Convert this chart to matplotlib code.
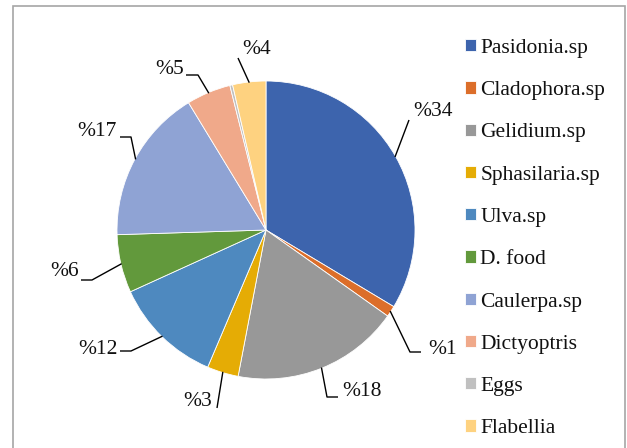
import matplotlib
matplotlib.use("Agg")
import matplotlib.pyplot as plt
import numpy as np
from matplotlib.patches import Rectangle

plt.rcParams['font.family'] = ['Liberation Serif', 'DejaVu Serif']

categories = ['Pasidonia.sp', 'Cladophora.sp', 'Gelidium.sp', 'Sphasilaria.sp', 'Ulva.sp',
              'D. food', 'Caulerpa.sp', 'Dictyoptris', 'Eggs', 'Flabellia']
values = [33.6, 1.2, 18.2, 3.4, 11.8, 6.3, 16.8, 4.8, 0.3, 3.6]
label_texts = ['%34', '%1', '%18', '%3', '%12', '%6', '%17', '%5', '', '%4']
colors = ['#3d64ad', '#dc6e2a', '#989898', '#e5ac05', '#4e89bf', '#62993c',
          '#8fa3d4', '#f0a98a', '#c0c0c0', '#fed280']

W, H = 627, 448
fig = plt.figure(figsize=(W / 100, H / 100), dpi=100)
R = 149.0
cx, cy = 266.0, 230.0
ax = fig.add_axes([0, 0, 1, 1])

def px(x, y):
    return ((x - cx) / R, (cy - y) / R)

wedges, _ = ax.pie(values, colors=colors, startangle=90, counterclock=False,
                   radius=1.0, center=(0, 0), frame=True,
                   wedgeprops=dict(edgecolor='white', linewidth=0.6))
ax.set_xlim(-cx / R, (W - cx) / R)
ax.set_ylim(-(H - cy) / R, cy / R)
ax.axis('off')

# label layout (pixel positions): text anchor, elbow points, text alignment
label_layout = [
    ((413, 112), [(409, 120)], 'left'),
    ((428, 349), [(410, 352), (421, 352)], 'left'),
    ((342, 392), [(327, 397), (338, 397)], 'left'),
    ((212, 401), [(217, 408)], 'right'),
    ((118, 349), [(131, 351), (120, 351)], 'right'),
    ((79, 272), [(92, 280), (81, 280)], 'right'),
    ((117, 132), [(131, 137), (120, 137)], 'right'),
    ((184, 70), [(198, 75), (186, 75)], 'right'),
    None,
    ((242, 49), [(238, 58)], 'left'),
]

for w, txt, lay in zip(wedges, label_texts, label_layout):
    if lay is None or not txt:
        continue
    mid = np.deg2rad((w.theta1 + w.theta2) / 2)
    ex, ey = np.cos(mid) * 0.995, np.sin(mid) * 0.995
    pts = [(ex, ey)] + [px(*p) for p in lay[1]]
    xs, ys = zip(*pts)
    ax.plot(xs, ys, color='black', lw=1.0, solid_capstyle='butt')
    tx, ty = px(*lay[0])
    ax.text(tx, ty, txt, fontsize=15.5, ha=lay[2], va='center', color='#111111')

leg = fig.legend(wedges, categories, loc='upper left', bbox_to_anchor=(465 / W, 1 - 39 / H),
                 frameon=False, fontsize=15.5, handlelength=0.5, handleheight=0.5,
                 handletextpad=0.22, labelspacing=1.08, borderaxespad=0, borderpad=0)
for t in leg.get_texts():
    t.set_color('#111111')

fig.patches.append(Rectangle((13 / W, -0.1), (625 - 13) / W, 1 - 6 / H + 0.1,
                             transform=fig.transFigure, fill=False,
                             edgecolor='#a6a6a6', lw=1.2))

fig.savefig('out.png', dpi=100)
